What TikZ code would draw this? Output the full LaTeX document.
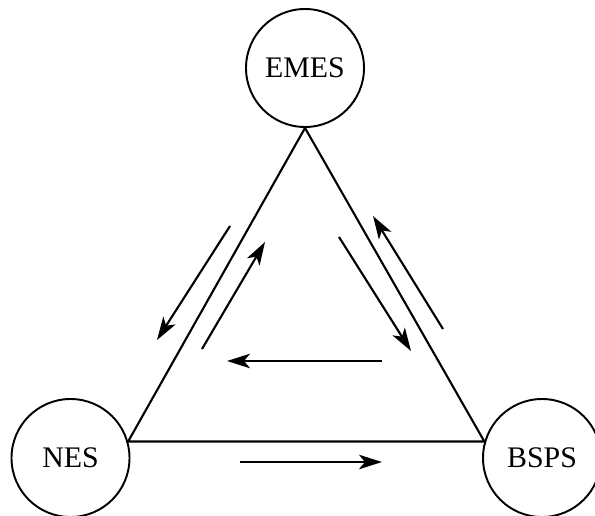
\documentclass[tikz,border=0pt]{standalone}
\usepackage{fontspec}
\setmainfont{Liberation Serif}
\usepackage{tikz}
\usetikzlibrary{arrows.meta}

\begin{document}
\begin{tikzpicture}[
		line width=1.2pt,
		every node/.style={circle, draw, line width=1.1pt, minimum size=2.36cm, inner sep=0pt, font=\fontsize{17}{20}\selectfont},
		flow/.style={-{Stealth[length=4.6mm, width=2.9mm, inset=1.2mm]}}
	]
  \useasboundingbox (0cm, 0cm) rectangle (11.9cm, 10.3cm);
  \node (emes) at (6.10cm, 8.94cm) {EMES};
  \node (nes) at (1.41cm, 1.14cm) {NES};
  \node (bsps) at (10.84cm, 1.14cm) {BSPS};
  \draw (emes.south) -- (nes.16) -- (bsps.164) -- cycle;
  % arrow ends
  \coordinate (lo_a) at (4.60cm, 5.78cm);
  \coordinate (lo_b) at (3.14cm, 3.50cm);
  \coordinate (li_a) at (4.04cm, 3.32cm);
  \coordinate (li_b) at (5.30cm, 5.46cm);
  \coordinate (ri_a) at (6.78cm, 5.56cm);
  \coordinate (ri_b) at (8.22cm, 3.28cm);
  \coordinate (ro_a) at (8.86cm, 3.72cm);
  \coordinate (ro_b) at (7.46cm, 5.98cm);
  \coordinate (m_a) at (7.64cm, 3.08cm);
  \coordinate (m_b) at (4.54cm, 3.08cm);
  \coordinate (b_a) at (4.80cm, 1.06cm);
  \coordinate (b_b) at (7.64cm, 1.06cm);
  \draw[flow] (lo_a) -- (lo_b);
  \draw[flow] (li_a) -- (li_b);
  \draw[flow] (ri_a) -- (ri_b);
  \draw[flow] (ro_a) -- (ro_b);
  \draw[flow] (m_a) -- (m_b);
  \draw[flow] (b_a) -- (b_b);
\end{tikzpicture}
\end{document}
